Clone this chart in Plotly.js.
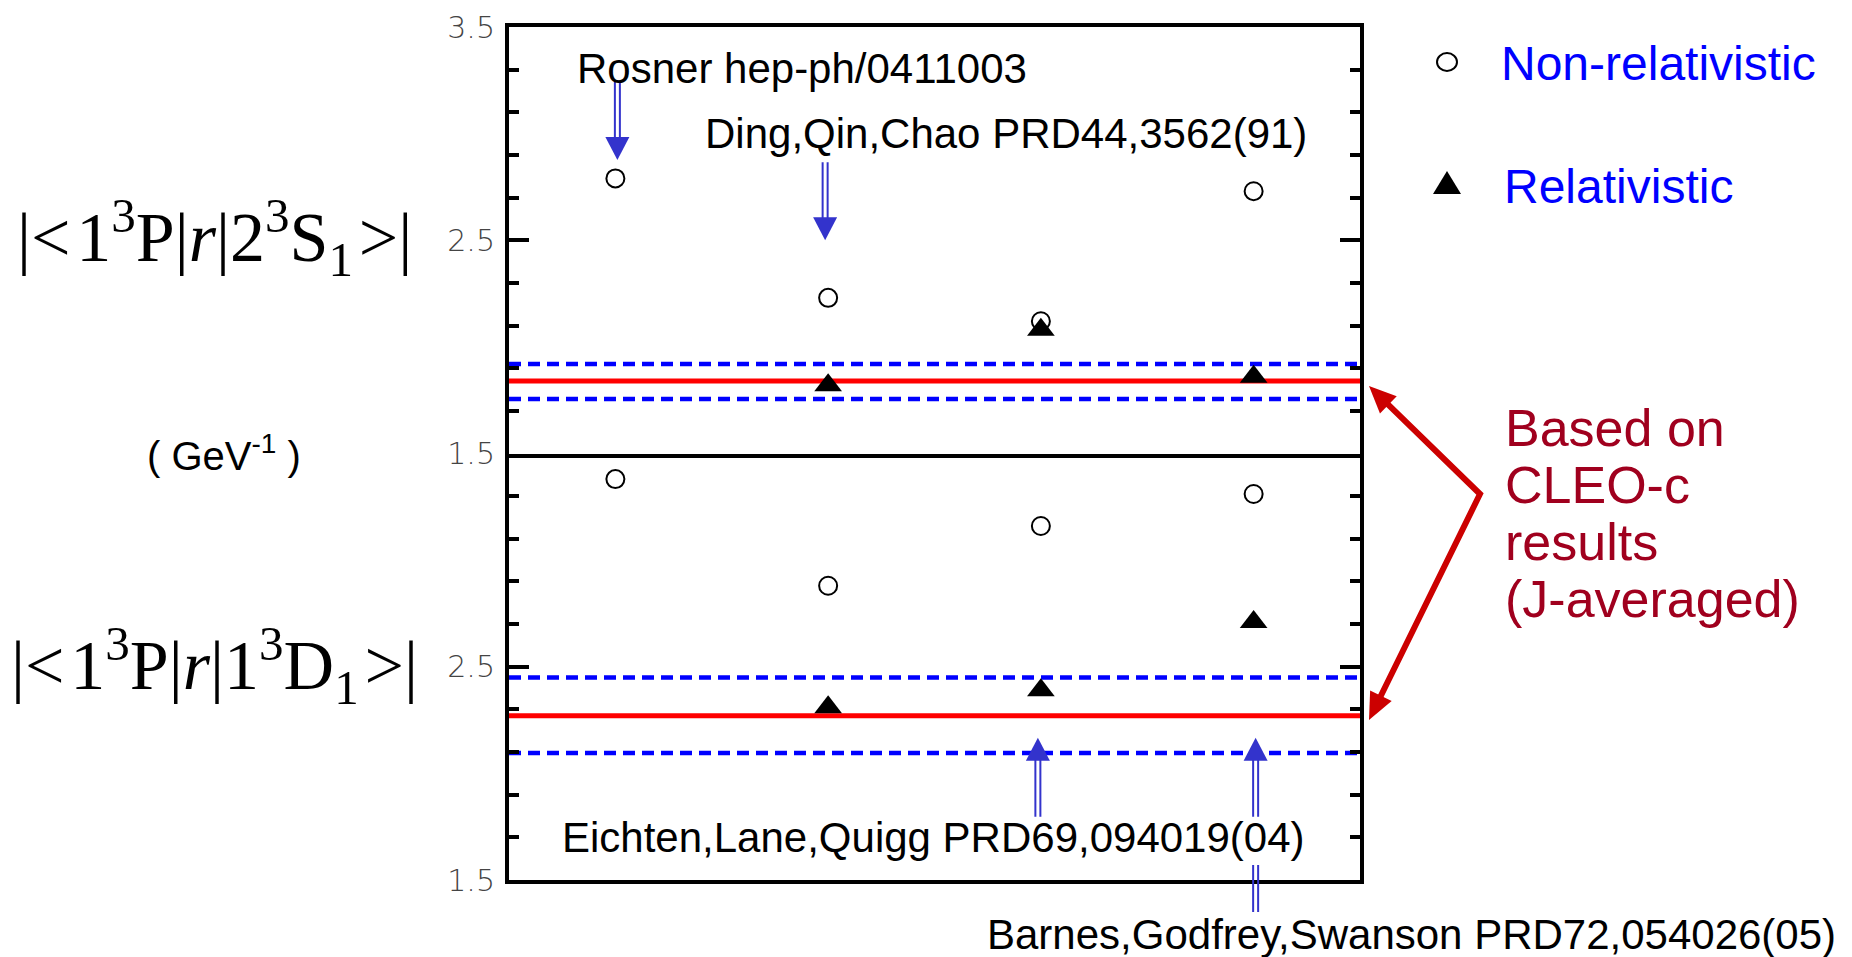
<!DOCTYPE html>
<html><head><meta charset="utf-8">
<script src="https://cdn.plot.ly/plotly-3.0.1.min.js"></script>
<style>html,body{margin:0;padding:0;background:#fff;overflow:hidden}#chart{width:1852px;height:957px}</style>
</head><body><div id="chart"></div>
<script>
// ---------------- data ----------------
const references = ['Rosner hep-ph/0411003', 'Ding,Qin,Chao PRD44,3562(91)', 'Eichten,Lane,Quigg PRD69,094019(04)', 'Barnes,Godfrey,Swanson PRD72,054026(05)'];
const refX = [1, 2, 3, 4];
const xRange = [0.5, 4.5];
const yRange = [1.5, 3.5];
// |<1^3P|r|2^3S1>|  (GeV^-1)
const nonRel2S = [2.79, 2.23, 2.12, 2.73];
const rel2S = [null, 1.82, 2.08, 1.86];
// |<1^3P|r|1^3D1>|  (GeV^-1)
const nonRel1D = [3.38, 2.88, 3.16, 3.31];
const rel1D = [null, 2.31, 2.39, 2.71];
// CLEO-c based values [low, central, high]
const cleo2S = [1.755, 1.84, 1.92];
const cleo1D = [2.095, 2.27, 2.45];
const tickValsTop = [1.5, 2.5, 3.5];
const tickTextTop = ['1.5', '2.5', '3.5'];
const tickValsBottom = [1.5, 2.5];
const tickTextBottom = ['1.5', '2.5'];
const seriesNames = ['Non-relativistic', 'Relativistic'];
const noteLines = ['Based on', 'CLEO-c', 'results', '(J-averaged)'];

// ---------------- layout helpers ----------------
const W = 1852, H = 957, L = 509, R = 1360, T = 27, B = 880;
const px = x => (x - L) / (R - L);
const py = y => (B - y) / (B - T);
const BLUE_ARROW = '#3333CC', RED_ARROW = '#CC0000';

const circleMarker = {symbol: 'circle', size: 18, color: 'rgba(255,255,255,0)', line: {color: 'black', width: 2}};
const triMarker = {symbol: 'triangle-up', size: 24, color: 'black', line: {width: 0}};

function bandTraces(vals, xa, ya) {
  const dashLine = {color: '#0000FF', width: 4.5, dash: '12px,7px'};
  return [
    {x: xRange, y: [vals[1], vals[1]], mode: 'lines', line: {color: '#FF0000', width: 5}, xaxis: xa, yaxis: ya, hoverinfo: 'skip', showlegend: false},
    {x: xRange, y: [vals[2], vals[2]], mode: 'lines', line: dashLine, xaxis: xa, yaxis: ya, hoverinfo: 'skip', showlegend: false},
    {x: xRange, y: [vals[0], vals[0]], mode: 'lines', line: dashLine, xaxis: xa, yaxis: ya, hoverinfo: 'skip', showlegend: false}
  ];
}

const traces = [
  ...bandTraces(cleo2S, 'x', 'y'),
  ...bandTraces(cleo1D, 'x2', 'y2'),
  {x: refX, y: rel2S, mode: 'markers', name: seriesNames[1], marker: triMarker, xaxis: 'x', yaxis: 'y', cliponaxis: false, showlegend: false},
  {x: refX, y: nonRel2S, mode: 'markers', name: seriesNames[0], marker: circleMarker, xaxis: 'x', yaxis: 'y', cliponaxis: false, showlegend: false},
  {x: refX, y: rel1D, mode: 'markers', name: seriesNames[1], marker: triMarker, xaxis: 'x2', yaxis: 'y2', cliponaxis: false, showlegend: false},
  {x: refX, y: nonRel1D, mode: 'markers', name: seriesNames[0], marker: circleMarker, xaxis: 'x2', yaxis: 'y2', cliponaxis: false, showlegend: false}
];

const xAxisBase = {range: xRange, showline: true, linewidth: 4, linecolor: 'black',
  showticklabels: false, ticks: '', showgrid: false, zeroline: false, fixedrange: true};
function yAxis(domain, anchor, tickvals, ticktext) {
  return {domain: domain, anchor: anchor, range: yRange, showline: true, linewidth: 4, linecolor: 'black',
    mirror: 'ticks', showgrid: false, zeroline: false, fixedrange: true,
    tickmode: 'array', tickvals: tickvals, ticktext: ticktext,
    ticks: 'inside', ticklen: 20, tickwidth: 4, tickcolor: 'black', ticklabelstandoff: 4,
    tickfont: {family: 'DejaVu Sans', size: 30, color: '#444444', weight: 300},
    minor: {tickmode: 'linear', tick0: 1.5, dtick: 0.2, ticks: 'inside', ticklen: 10, tickwidth: 4, tickcolor: 'black', showgrid: false}};
}

// ---------------- shapes ----------------
const shapes = [];
// blue double-shafted arrows: anchored at a data x and the data value at the tip
function blueArrow(xref, yref, xv, tipVal, dx, s, shaftLen) {
  [-2.5, 2.5].forEach(o => shapes.push({type: 'line', xref: xref, yref: yref, xsizemode: 'pixel', xanchor: xv,
    x0: dx + o, x1: dx + o, ysizemode: 'pixel', yanchor: tipVal, y0: s * 20, y1: s * shaftLen,
    line: {color: BLUE_ARROW, width: 2}}));
  shapes.push({type: 'path', xref: xref, yref: yref, xsizemode: 'pixel', xanchor: xv, ysizemode: 'pixel', yanchor: tipVal,
    path: `M${dx - 12},${s * 23} L${dx + 12},${s * 23} L${dx},0 Z`, fillcolor: BLUE_ARROW, line: {width: 0}});
}
blueArrow('x', 'y', refX[0], 2.876, 2, 1, 78);
blueArrow('x', 'y', refX[1], 2.5, -3, 1, 78);
blueArrow('x2', 'y2', refX[2], 2.167, -3, -1, 79);
blueArrow('x2', 'y2', refX[3], 2.167, 2, -1, 79);
// lower part of the Barnes arrow shaft, below the frame
[-2.5, 2.5].forEach(o => shapes.push({type: 'line', xref: 'x2', yref: 'paper', xsizemode: 'pixel', xanchor: refX[3],
  x0: 2 + o, x1: 2 + o, ysizemode: 'pixel', yanchor: 0, y0: 15, y1: -32, line: {color: BLUE_ARROW, width: 2}}));

// red arrows from the note to the two CLEO-c lines
const vtx = [1480, 494];
const tips = [[1369, 386], [1369, 720]];
const ends = tips.map(t => {
  const dx = t[0] - vtx[0], dy = t[1] - vtx[1], len = Math.hypot(dx, dy);
  const ux = dx / len, uy = dy / len;
  const base = [t[0] - ux * 27, t[1] - uy * 27];
  const w1 = [base[0] - uy * 12, base[1] + ux * 12], w2 = [base[0] + uy * 12, base[1] - ux * 12];
  shapes.push({type: 'path', xref: 'paper', yref: 'paper',
    path: `M${px(t[0])},${py(t[1])} L${px(w1[0])},${py(w1[1])} L${px(w2[0])},${py(w2[1])} Z`,
    fillcolor: RED_ARROW, line: {width: 0}});
  return [t[0] - ux * 20, t[1] - uy * 20];
});
shapes.push({type: 'path', xref: 'paper', yref: 'paper',
  path: `M${px(ends[0][0])},${py(ends[0][1])} L${px(vtx[0])},${py(vtx[1])} L${px(ends[1][0])},${py(ends[1][1])}`,
  line: {color: RED_ARROW, width: 6}});

// legend symbols
shapes.push({type: 'circle', xref: 'paper', yref: 'paper', xsizemode: 'pixel', ysizemode: 'pixel',
  xanchor: px(1447), yanchor: py(62), x0: -10, x1: 10, y0: -9, y1: 9, fillcolor: 'white', line: {color: 'black', width: 2}});
shapes.push({type: 'path', xref: 'paper', yref: 'paper', xsizemode: 'pixel', ysizemode: 'pixel',
  xanchor: px(1447), yanchor: py(188), path: 'M-14,-6 L14,-6 L0,17 Z', fillcolor: 'black', line: {width: 0}});

// ---------------- annotations ----------------
const sans = 'Liberation Sans, Arial, sans-serif';
const serif = 'Liberation Serif, Times New Roman, serif';
function txt(text, x, y, size, color, family, xanchor) {
  return {text: text, xref: 'paper', yref: 'paper', x: px(x), y: py(y), xanchor: xanchor || 'center', yanchor: 'middle',
    showarrow: false, font: {family: family || sans, size: size, color: color || 'black'}};
}
const hs = '\u200A';
const annotations = [
  txt(references[0], 802, 69, 42),
  txt(references[1], 1006, 133, 42),
  txt(references[2], 933, 837, 42),
  txt(references[3], 1411, 934, 42),
  txt(seriesNames[0], 1499, 63, 48, '#0000FF', sans, 'left'),
  txt(seriesNames[1], 1502, 186, 48, '#0000FF', sans, 'left'),
  txt(noteLines[0], 1503, 428, 52, '#A0001E', sans, 'left'),
  txt(noteLines[1], 1503, 485, 52, '#A0001E', sans, 'left'),
  txt(noteLines[2], 1503, 542, 52, '#A0001E', sans, 'left'),
  txt(noteLines[3], 1503, 599, 52, '#A0001E', sans, 'left'),
  txt('|<' + hs + '1<sup>3</sup>P|<i>r</i>|2<sup>3</sup>S<sub>1</sub>' + hs + '>|', 214, 238, 70, 'black', serif),
  txt('|<' + hs + '1<sup>3</sup>P|<i>r</i>|1<sup>3</sup>D<sub>1</sub>' + hs + '>|', 214, 665, 70, 'black', serif),
  txt('( GeV<sup>-1</sup> )', 224, 453, 40, 'black', sans)
];

const layout = {
  width: W, height: H, margin: {l: L, r: W - R, t: T, b: H - B, pad: 0},
  paper_bgcolor: 'white', plot_bgcolor: 'white', showlegend: false,
  xaxis: Object.assign({anchor: 'y', domain: [0, 1], mirror: true}, xAxisBase),
  xaxis2: Object.assign({anchor: 'y2', domain: [0, 1], mirror: false}, xAxisBase),
  yaxis: yAxis([0.5, 1], 'x', tickValsTop, tickTextTop),
  yaxis2: yAxis([0, 0.5], 'x2', tickValsBottom, tickTextBottom),
  shapes: shapes, annotations: annotations
};
Plotly.newPlot('chart', traces, layout, {displayModeBar: false});
</script></body></html>
